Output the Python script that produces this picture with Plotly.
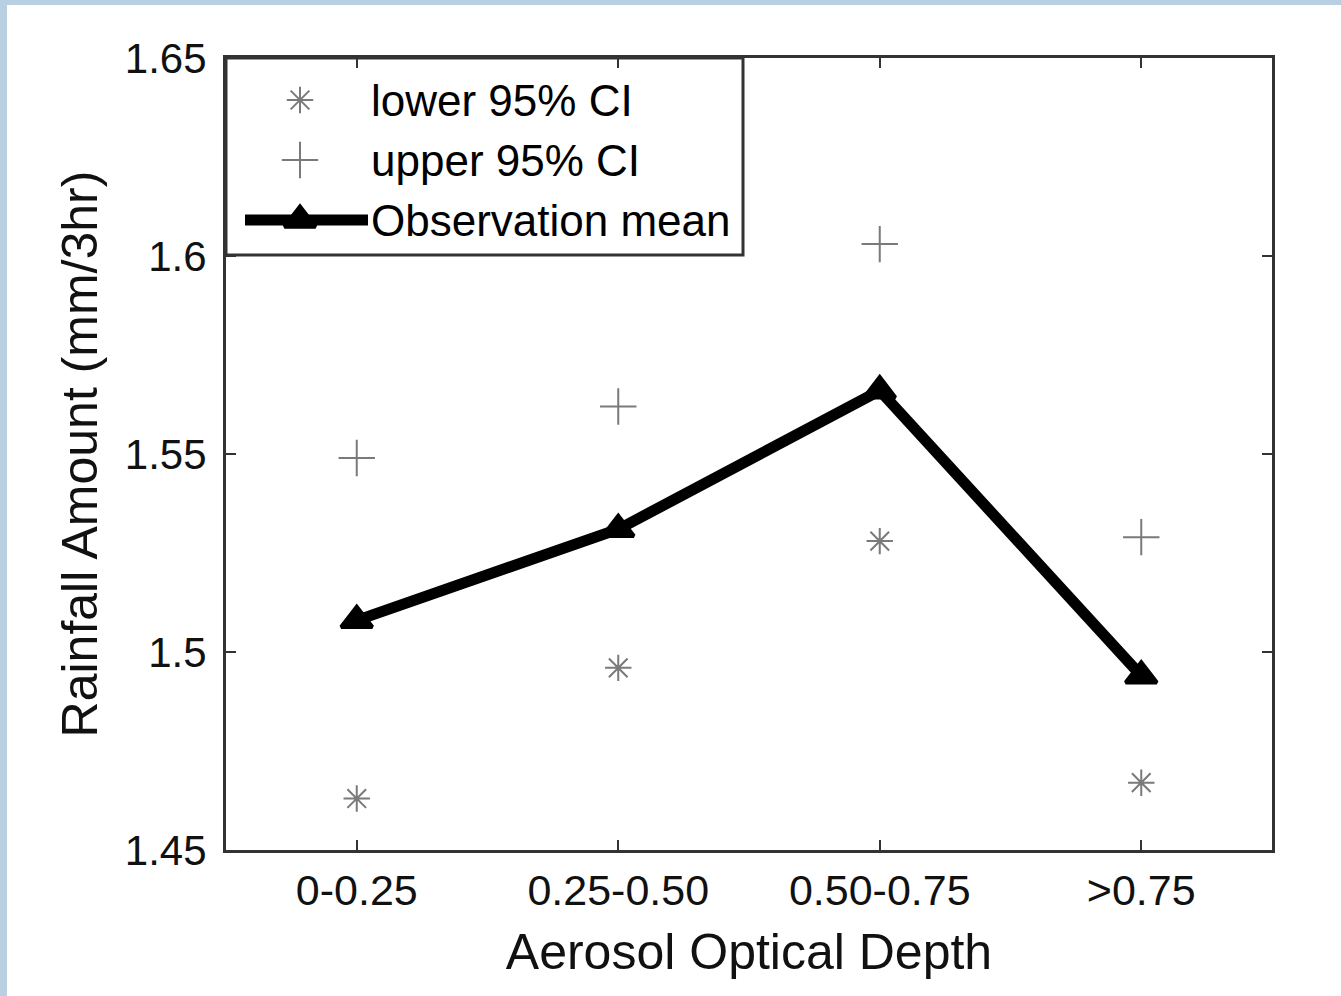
import plotly.graph_objects as go

# Aerosol optical depth bins and rainfall statistics (mm/3hr)
categories = ["0-0.25", "0.25-0.50", "0.50-0.75", ">0.75"]
obs_mean = [1.508, 1.531, 1.566, 1.494]
upper_ci = [1.549, 1.562, 1.603, 1.529]
lower_ci = [1.463, 1.496, 1.528, 1.467]

y_ticks = [1.45, 1.5, 1.55, 1.6, 1.65]
y_tick_text = ["1.45", "1.5", "1.55", "1.6", "1.65"]

legend_labels = ["lower 95% CI", "upper 95% CI", "Observation mean"]

W, H = 1341, 996
ML, MR, MT, MB = 226, 69, 58, 146
FONT = "Liberation Sans, Arial, sans-serif"
AXIS_COLOR = "#333333"
GREY = "#7a7a7a"

xpos = list(range(1, len(categories) + 1))

fig = go.Figure()

fig.add_trace(go.Scatter(
    x=xpos, y=lower_ci, mode="markers", name=legend_labels[0],
    marker=dict(symbol="asterisk-open", size=22, color=GREY,
                line=dict(color=GREY, width=2)),
))
fig.add_trace(go.Scatter(
    x=xpos, y=upper_ci, mode="markers", name=legend_labels[1],
    marker=dict(symbol="cross-thin-open", size=26, color=GREY,
                line=dict(color=GREY, width=2)),
))
fig.add_trace(go.Scatter(
    x=xpos, y=obs_mean, mode="lines+markers", name=legend_labels[2],
    line=dict(color="black", width=11),
    marker=dict(symbol="triangle-up", size=27, color="black",
                line=dict(color="black", width=4)),
))

# Hand-built legend box drawn on an overlay axis spanning the plot area
pw, ph = W - ML - MR, H - MT - MB
lg_x_sym = 74 / pw
lg_x_txt = 143 / pw
lg_rows = [1 - 42 / ph, 1 - 102 / ph, 1 - 162 / ph]

fig.add_trace(go.Scatter(
    x=[lg_x_sym], y=[lg_rows[0]], xaxis="x2", yaxis="y2", mode="markers",
    showlegend=False, hoverinfo="skip",
    marker=dict(symbol="asterisk-open", size=22, color=GREY,
                line=dict(color=GREY, width=2)),
))
fig.add_trace(go.Scatter(
    x=[lg_x_sym], y=[lg_rows[1]], xaxis="x2", yaxis="y2", mode="markers",
    showlegend=False, hoverinfo="skip",
    marker=dict(symbol="cross-thin-open", size=26, color=GREY,
                line=dict(color=GREY, width=2)),
))
fig.add_trace(go.Scatter(
    x=[19 / pw, lg_x_sym, 142 / pw], y=[lg_rows[2]] * 3, xaxis="x2", yaxis="y2",
    mode="lines", showlegend=False, hoverinfo="skip",
    line=dict(color="black", width=11),
))
fig.add_trace(go.Scatter(
    x=[lg_x_sym], y=[lg_rows[2]], xaxis="x2", yaxis="y2", mode="markers",
    showlegend=False, hoverinfo="skip",
    marker=dict(symbol="triangle-up", size=27, color="black",
                line=dict(color="black", width=4)),
))

annotations = []
for label, ry in zip(legend_labels, lg_rows):
    annotations.append(dict(
        x=lg_x_txt, y=ry, xref="x2", yref="y2", text=label, showarrow=False,
        xanchor="left", yanchor="middle",
        font=dict(family=FONT, size=44, color="black"),
    ))

shapes = [
    # white page area over the tinted background strip
    dict(type="rect", xref="paper", yref="paper", layer="below",
         x0=(7 - ML) / pw, x1=1.2, y0=-0.3, y1=(H - MB - 5) / ph,
         fillcolor="white", line=dict(width=0)),
    # legend frame
    dict(type="rect", xref="paper", yref="paper",
         x0=0, x1=517 / pw, y0=1 - 197 / ph, y1=1,
         fillcolor="rgba(0,0,0,0)", line=dict(color=AXIS_COLOR, width=3)),
]

axis_common = dict(
    showline=True, linecolor=AXIS_COLOR, linewidth=3, mirror="ticks",
    ticks="inside", ticklen=10, tickwidth=2, tickcolor=AXIS_COLOR,
    showgrid=False, zeroline=False,
)

fig.update_layout(
    width=W, height=H,
    margin=dict(l=ML, r=MR, t=MT, b=MB, pad=0),
    paper_bgcolor="#b9cfe2",
    plot_bgcolor="white",
    showlegend=False,
    shapes=shapes,
    annotations=annotations,
    xaxis=dict(
        range=[0.5, 4.5], tickvals=xpos, ticktext=categories,
        tickfont=dict(family=FONT, size=43, color="#111111"),
        title=dict(text="Aerosol Optical Depth", standoff=22,
                   font=dict(family=FONT, size=50, color="#111111")),
        **axis_common,
    ),
    yaxis=dict(
        range=[1.45, 1.65], tickvals=y_ticks, ticktext=y_tick_text,
        tickfont=dict(family=FONT, size=42, color="#111111"),
        ticklabelstandoff=8,
        title=dict(text="Rainfall Amount (mm/3hr)", standoff=12,
                   font=dict(family=FONT, size=50, color="#111111")),
        **axis_common,
    ),
    xaxis2=dict(overlaying="x", range=[0, 1], visible=False),
    yaxis2=dict(overlaying="y", range=[0, 1], visible=False),
)

fig.write_html("out.html")
